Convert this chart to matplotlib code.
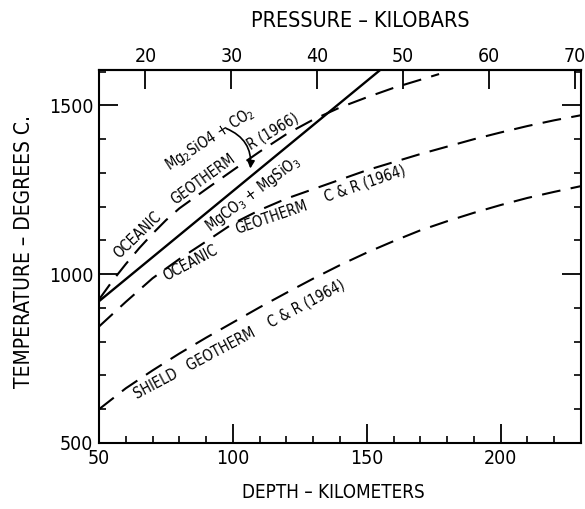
import numpy as np
import matplotlib
matplotlib.use("Agg")
import matplotlib.pyplot as plt
from matplotlib.ticker import MultipleLocator

plt.rcParams['font.family'] = ['DejaVu Sans']
plt.rcParams['font.stretch'] = 'condensed'

# depth (km) -> temperature (deg C)
r1966_depth = [50, 55, 60, 65, 70, 75, 80, 90, 100, 110, 120, 130, 140, 150, 160, 170, 177]
r1966_temp = [925, 980, 1030, 1077, 1120, 1160, 1195, 1252, 1308, 1363, 1415, 1458, 1494, 1524, 1552, 1576, 1593]

cr_ocean_depth = [50, 60, 70, 80, 90, 100, 110, 120, 130, 140, 150, 160, 170, 180, 190, 200, 210, 220, 230]
cr_ocean_temp = [845, 918, 988, 1045, 1097, 1150, 1190, 1224, 1252, 1280, 1308, 1332, 1356, 1378, 1400, 1420, 1439, 1456, 1471]

shield_depth = [50, 60, 70, 80, 90, 100, 110, 120, 130, 140, 150, 160, 170, 180, 190, 200, 210, 220, 230]
shield_temp = [600, 662, 715, 765, 812, 857, 902, 945, 987, 1027, 1064, 1098, 1130, 1157, 1182, 1205, 1226, 1244, 1261]

# reaction boundary MgCO3 + MgSiO3 = Mg2SiO4 + CO2 (straight line)
reaction_depth = [50, 155]
reaction_temp = [920, 1605]

pressure_ticks = [20, 30, 40, 50, 60, 70]
KM_AT_ZERO_KBAR = 3.2
KBAR_PER_KM = 0.3117


def km_to_kbar(d):
    return (d - KM_AT_ZERO_KBAR) * KBAR_PER_KM


def kbar_to_km(p):
    return p / KBAR_PER_KM + KM_AT_ZERO_KBAR


fig = plt.figure(figsize=(5.85, 5.09), dpi=100)
ax = fig.add_axes([99 / 585, 1 - 443 / 509, 482 / 585, 373 / 509])

dash = (0, (9, 5))
ax.plot(reaction_depth, reaction_temp, color='black', lw=1.7)
ax.plot(r1966_depth, r1966_temp, color='black', lw=1.5, linestyle=dash)
ax.plot(cr_ocean_depth, cr_ocean_temp, color='black', lw=1.5, linestyle=dash)
ax.plot(shield_depth, shield_temp, color='black', lw=1.5, linestyle=dash)

ax.set_xlim(50, 230)
ax.set_ylim(500, 1605)

ax.xaxis.set_major_locator(MultipleLocator(50))
ax.xaxis.set_minor_locator(MultipleLocator(10))
ax.yaxis.set_major_locator(MultipleLocator(500))
ax.yaxis.set_minor_locator(MultipleLocator(100))
ax.tick_params(which='major', direction='in', length=14, width=1.3,
               right=True, top=False, labelsize=14, pad=4)
ax.tick_params(which='minor', direction='in', length=5, width=1.2,
               right=True, top=False)
for s in ax.spines.values():
    s.set_linewidth(1.5)

sec = ax.secondary_xaxis('top', functions=(km_to_kbar, kbar_to_km))
sec.set_xticks(pressure_ticks)
sec.tick_params(direction='in', length=14, width=1.3, labelsize=14, pad=3)
sec.spines['top'].set_linewidth(1.5)

lab = dict(fontsize=10.5, ha='center', va='center', rotation_mode='anchor')


def curve_label(text, d, depths, temps, angle, off_pt):
    # word lettered along a curve, shifted off it perpendicular (pt)
    t = np.interp(d, depths, temps)
    a = np.radians(angle)
    ax.annotate(text, xy=(d, t), xytext=(-np.sin(a) * off_pt, np.cos(a) * off_pt),
                textcoords='offset points', rotation=angle, **lab)


ax.text(91.5, 1400, r'Mg$_2$SiO4 + CO$_2$', rotation=33, **lab)
ax.text(107.5, 1237, r'MgCO$_3$ + MgSiO$_3$', rotation=37, **lab)

curve_label('OCEANIC', 67, r1966_depth, r1966_temp, 44, 7.2)
curve_label('GEOTHERM', 91, r1966_depth, r1966_temp, 36, 7.2)
curve_label('R (1966)', 117, r1966_depth, r1966_temp, 31, 7.2)

curve_label('OCEANIC', 82.5, cr_ocean_depth, cr_ocean_temp, 28, -7.2)
curve_label('GEOTHERM', 113, cr_ocean_depth, cr_ocean_temp, 19, -7.9)
curve_label('C & R (1964)', 148, cr_ocean_depth, cr_ocean_temp, 19, -8.6)

ax.text(102.2, 808, 'SHIELD   GEOTHERM    C & R (1964)', rotation=28, **lab)

ax.annotate('', xy=(106.4, 1305), xytext=(96.5, 1435),
            arrowprops=dict(arrowstyle='-|>', connectionstyle='arc3,rad=-0.4',
                            lw=1.2, color='black', mutation_scale=11))

fig.text(333 / 585, 1 - 493 / 509, 'DEPTH – KILOMETERS', fontsize=13.5,
         ha='center', va='center')
fig.text(360 / 585, 1 - 21 / 509, 'PRESSURE – KILOBARS', fontsize=15.5,
         ha='center', va='center')
fig.text(24 / 585, 1 - 252 / 509, 'TEMPERATURE – DEGREES C.', fontsize=15,
         ha='center', va='center', rotation=90)

fig.savefig('out.png', dpi=100)
